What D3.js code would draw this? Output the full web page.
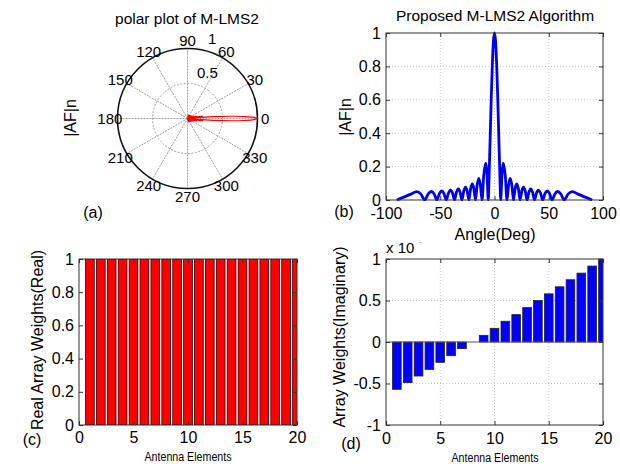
<!DOCTYPE html>
<html><head><meta charset="utf-8">
<script src="https://cdn.jsdelivr.net/npm/d3@7"></script>
<style>
body{margin:0;background:#fff}
text{font-family:"Liberation Sans",Arial,sans-serif;fill:#000}
.grid{stroke:#c8c8c8;stroke-width:1;stroke-dasharray:1,2}
.ax path{display:none}
.ax line{stroke:#333}
.ax text{font-size:16px}
</style>
</head><body><svg id="c" width="620" height="470"></svg>
<script>
// ---------- data ----------
const afAngles = [-90,-77,-71.8,-67.8,-64.2,-61.1,-58.2,-55.6,-53.1,-50.8,-48.6,-46.5,-44.4,-42.4,-40.5,-38.7,-36.9,-35.1,-33.4,-31.7,-30,-28.3,-26.7,-25.2,-23.6,-22,-20.5,-19,-17.5,-16,-14.4,-13,-11.5,-10,-8.2,-7,-5.7,-5,-4,-3,-2,-1,0,1,2,3,4,5,5.7,7,8.2,10,11.5,13,14.4,16,17.5,19,20.5,22,23.6,25.2,26.7,28.3,30,31.7,33.4,35.1,36.9,38.7,40.5,42.4,44.4,46.5,48.6,50.8,53.1,55.6,58.2,61.1,64.2,67.8,71.8,77,90];
const afValues = [0,0.035,0.05,0.035,0,0.036,0.051,0.036,0,0.038,0.054,0.038,0,0.042,0.059,0.042,0,0.046,0.066,0.046,0,0.055,0.077,0.055,0,0.068,0.096,0.068,0,0.09,0.13,0.09,0,0.14,0.22,0.17,0,0.14,0.37,0.61,0.81,0.95,1,0.95,0.81,0.61,0.37,0.14,0,0.17,0.22,0.14,0,0.09,0.13,0.09,0,0.068,0.096,0.068,0,0.055,0.077,0.055,0,0.046,0.066,0.046,0,0.042,0.059,0.042,0,0.038,0.054,0.038,0,0.036,0.051,0.036,0,0.035,0.05,0.035,0];
const elements = [1,2,3,4,5,6,7,8,9,10,11,12,13,14,15,16,17,18,19,20];
const realWeights = [1,1,1,1,1,1,1,1,1,1,1,1,1,1,1,1,1,1,1,1];
const imagWeights = [-0.57,-0.49,-0.41,-0.33,-0.245,-0.165,-0.08,0,0.08,0.165,0.25,0.33,0.415,0.5,0.58,0.665,0.75,0.83,0.915,1.0];
const polarAngleTicks = [0,30,60,90,120,150,180,210,240,270,300,330];
const polarRadiusTicks = [0.5,1];
const bXTicks = [-100,-50,0,50,100];
const bYTicks = [0,0.2,0.4,0.6,0.8,1];
const cXTicks = [0,5,10,15,20];
const cYTicks = [0,0.2,0.4,0.6,0.8,1];
const dXTicks = [0,5,10,15,20];
const dYTicks = [-1,-0.5,0,0.5,1];

const svg = d3.select("#c");
const fmt = d => String(d);

function txt(x,y,s,size,anchor,rot){
  const t = svg.append("text").attr("x",x).attr("y",y).attr("font-size",size).attr("text-anchor",anchor||"middle").text(s);
  if(rot) t.attr("transform",`rotate(${rot},${x},${y})`);
  return t;
}

function cartesian(o){
  const x = d3.scaleLinear().domain(o.xDomain).range([o.left,o.right]);
  const y = d3.scaleLinear().domain(o.yDomain).range([o.bottom,o.top]);
  const g = svg.append("g");
  g.append("g").selectAll("line").data(o.xGrid).join("line").attr("class","grid")
    .attr("x1",d=>x(d)).attr("x2",d=>x(d)).attr("y1",o.top).attr("y2",o.bottom);
  g.append("g").selectAll("line").data(o.yGrid).join("line").attr("class","grid")
    .attr("y1",d=>y(d)).attr("y2",d=>y(d)).attr("x1",o.left).attr("x2",o.right);
  const marks = svg.append("g");
  const axes = () => {
    svg.append("g").attr("class","ax").attr("transform",`translate(0,${o.bottom})`)
      .call(d3.axisBottom(x).tickValues(o.xTicks).tickFormat(fmt).tickSize(-4).tickPadding(o.xPad));
    svg.append("g").attr("class","ax").attr("transform",`translate(0,${o.top})`)
      .call(d3.axisTop(x).tickValues(o.xTicks).tickFormat("").tickSize(-4));
    svg.append("g").attr("class","ax").attr("transform",`translate(${o.left},0)`)
      .call(d3.axisLeft(y).tickValues(o.yTicks).tickFormat(fmt).tickSize(-4).tickPadding(5));
    svg.append("g").attr("class","ax").attr("transform",`translate(${o.right},0)`)
      .call(d3.axisRight(y).tickValues(o.yTicks).tickFormat("").tickSize(-4));
    svg.append("rect").attr("x",o.left).attr("y",o.top).attr("width",o.right-o.left)
      .attr("height",o.bottom-o.top).attr("fill","none").attr("stroke","#333").attr("stroke-width",1);
  };
  return {x,y,marks,axes};
}

// ---------- (a) polar ----------
{
  const cx = 187.5, cy = 118.5, R = 70;
  const r = d3.scaleLinear().domain([0,1]).range([0,R]);
  const g = svg.append("g").attr("transform",`translate(${cx},${cy})`);
  g.selectAll("line.sp").data(polarAngleTicks).join("line")
    .attr("x1",0).attr("y1",0)
    .attr("x2",d=>r(1)*Math.cos(d*Math.PI/180)).attr("y2",d=>-r(1)*Math.sin(d*Math.PI/180))
    .attr("stroke","#a0a0a0").attr("stroke-width",1).attr("stroke-dasharray","2,1");
  g.append("circle").attr("r",r(0.5)).attr("fill","none").attr("stroke","#a0a0a0").attr("stroke-dasharray","2,1.5");
  g.append("circle").attr("r",r(1)).attr("fill","none").attr("stroke","#111").attr("stroke-width",1.6);
  const pts = afAngles.map((a,i)=>[a,afValues[i]]);
  const radial = d3.lineRadial().angle(d=>Math.PI/2 - d[0]*Math.PI/180).radius(d=>r(d[1])).curve(d3.curveCatmullRom);
  g.append("path").attr("d",radial(pts)).attr("fill","none").attr("stroke","#f00").attr("stroke-width",1.2);
  g.selectAll("text.at").data(polarAngleTicks).join("text")
    .attr("x",d=>r(1.11)*Math.cos(d*Math.PI/180)).attr("y",d=>-r(1.11)*Math.sin(d*Math.PI/180))
    .attr("dy","0.36em").attr("text-anchor","middle").attr("font-size",15).text(fmt);
  g.selectAll("text.rt").data(polarRadiusTicks).join("text")
    .attr("x",d=>r(d)*Math.cos(82*Math.PI/180)+15).attr("y",d=>-r(d)*Math.sin(82*Math.PI/180)-11)
    .attr("dy","0.36em").attr("text-anchor","middle").attr("font-size",15).text(fmt);
  txt(187,24,"polar plot of M-LMS2",15.5);
  txt(76,118,"|AF|n",16,"middle",-90);
  txt(93,218,"(a)",16);
}

// ---------- (b) AF line ----------
{
  const p = cartesian({left:386,right:603,top:33,bottom:200,xDomain:[-100,100],yDomain:[0,1],
    xGrid:[-50,0,50],yGrid:[0.2,0.4,0.6,0.8],xTicks:bXTicks,yTicks:bYTicks,xPad:7.5});
  svg.append("clipPath").attr("id","cb").append("rect").attr("x",386).attr("y",31).attr("width",217).attr("height",170);
  const line = d3.line().x((d,i)=>p.x(afAngles[i])).y(d=>p.y(d)).curve(d3.curveMonotoneX);
  p.marks.append("path").attr("d",line(afValues)).attr("clip-path","url(#cb)")
    .attr("fill","none").attr("stroke","#0000f0").attr("stroke-width",2.8).attr("stroke-linejoin","round");
  p.axes();
  txt(495,21,"Proposed M-LMS2 Algorithm",15.5);
  txt(351,117,"|AF|n",16,"middle",-90);
  txt(344,217,"(b)",16);
  txt(495,240,"Angle(Deg)",16);
}

// ---------- (c) real weights ----------
{
  const p = cartesian({left:79,right:297,top:259,bottom:425,xDomain:[0,20],yDomain:[0,1],
    xGrid:[],yGrid:[],xTicks:cXTicks,yTicks:cYTicks,xPad:7});
  svg.append("clipPath").attr("id","cc").append("rect").attr("x",79).attr("y",259).attr("width",218).attr("height",166);
  p.marks.append("g").attr("clip-path","url(#cc)").selectAll("rect").data(elements).join("rect")
    .attr("x",(d)=>p.x(d-0.4)).attr("width",(d)=>p.x(d+0.4)-p.x(d-0.4))
    .attr("y",(d,i)=>p.y(realWeights[i])).attr("height",(d,i)=>p.y(0)-p.y(realWeights[i]))
    .attr("fill","#ff0000").attr("stroke","#300").attr("stroke-width",0.8);
  p.axes();
  txt(43,340,"Real Array Weights(Real)",16,"middle",-90);
  txt(32,445,"(c)",16);
  txt(188,461,"Antenna Elements",12).attr("textLength",87).attr("lengthAdjust","spacingAndGlyphs");
}

// ---------- (d) imaginary weights ----------
{
  const p = cartesian({left:386,right:603,top:259,bottom:425,xDomain:[0,20],yDomain:[-1,1],
    xGrid:[5,10,15],yGrid:[-0.5,0.5],xTicks:dXTicks,yTicks:dYTicks,xPad:8});
  svg.append("clipPath").attr("id","cd").append("rect").attr("x",386).attr("y",258).attr("width",217).attr("height",168);
  const gb = p.marks.append("g").attr("clip-path","url(#cd)");
  gb.selectAll("rect").data(elements).join("rect")
    .attr("x",(d)=>p.x(d-0.4)).attr("width",(d)=>p.x(d+0.4)-p.x(d-0.4))
    .attr("y",(d,i)=>p.y(Math.max(0,imagWeights[i])))
    .attr("height",(d,i)=>Math.abs(p.y(imagWeights[i])-p.y(0)))
    .attr("fill","#0000ff").attr("stroke","#222").attr("stroke-width",0.8);
  p.marks.append("line").attr("x1",386).attr("x2",603).attr("y1",p.y(0)).attr("y2",p.y(0)).attr("stroke","#555");
  p.axes();
  txt(386,253,"x 10",15,"start");
  txt(419,245,"-",9,"start").style("fill","#999");
  txt(345,337,"Array Weights(Imaginary)",16,"middle",-90);
  txt(351,449,"(d)",16);
  txt(495,462,"Antenna Elements",12).attr("textLength",87).attr("lengthAdjust","spacingAndGlyphs");
}
</script>
</body></html>
